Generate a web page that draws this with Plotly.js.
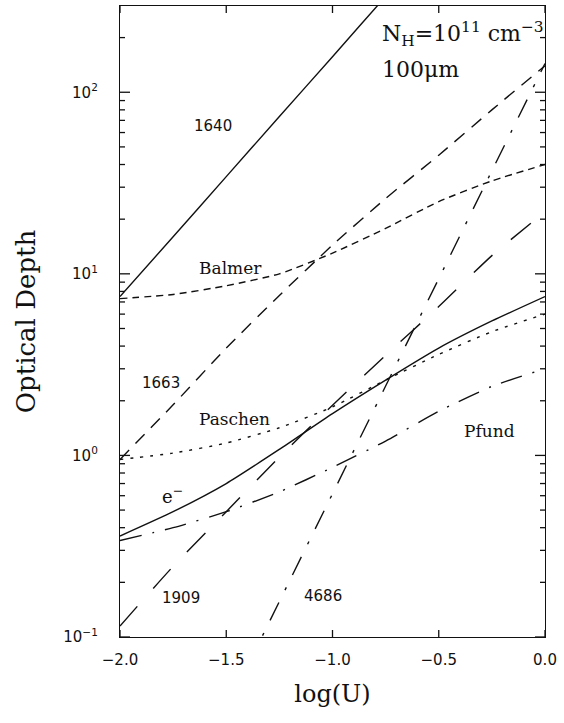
<!DOCTYPE html>
<html>
<head>
<meta charset="utf-8">
<script src="https://cdn.plot.ly/plotly-3.0.1.min.js"></script>
<style>html,body{margin:0;padding:0;background:#fff}#chart{width:564px;height:723px}</style>
</head>
<body>
<div id="chart"></div>
<script>
// Shared log(U) grid
var logU = [-2.0, -1.75, -1.5, -1.25, -1.0, -0.75, -0.5, -0.25, 0.0];

// 1640 (solid, upper)
var x1640 = [-2.0, -1.75, -1.5, -1.25, -1.0, -0.75, -0.5];
var tau1640 = [7.5, 16.0, 34.3, 73.5, 157, 337, 719];

// Balmer continuum
var tauBalmer = [7.3, 7.7, 8.6, 10.0, 13.0, 17.8, 25.0, 32.5, 40.0];

// 1663
var tau1663 = [0.95, 1.9, 3.9, 7.6, 14.4, 26.0, 45.0, 80.0, 140.0];

// Paschen continuum
var tauPaschen = [0.95, 1.03, 1.17, 1.42, 1.85, 2.6, 3.6, 4.8, 6.0];

// electron scattering
var tauE = [0.36, 0.49, 0.70, 1.08, 1.70, 2.6, 3.9, 5.5, 7.5];

// Pfund continuum
var tauPfund = [0.34, 0.40, 0.49, 0.63, 0.86, 1.2, 1.75, 2.4, 3.0];

// 1909
var tau1909 = [0.115, 0.245, 0.49, 0.98, 1.89, 3.56, 6.6, 12.6, 22.0];

// 4686
var x4686 = [-1.4, -1.25, -1.0, -0.75, -0.5, -0.25, 0.0];
var tau4686 = [0.069, 0.157, 0.615, 2.41, 9.4, 36.9, 144];

// Tick labels / positions
var yTickVals = [0.1, 1, 10, 100];
var yTickText = ['10<sup>−1</sup>', '10<sup>0</sup>', '10<sup>1</sup>', '10<sup>2</sup>'];
var yMinorVals = [0.2, 0.3, 0.4, 0.5, 0.6, 0.7, 0.8, 0.9,
                  2, 3, 4, 5, 6, 7, 8, 9,
                  20, 30, 40, 50, 60, 70, 80, 90, 200];
var xTickVals = [-2.0, -1.5, -1.0, -0.5, 0.0];
var xTickText = ['−2.0', '−1.5', '−1.0', '−0.5', '0.0'];

var xRange = [-2.0, 0.0];
var yRange = [-1, 2.475];

var W = 564, H = 723;
var M = {l: 120, r: 19, t: 6, b: 86};
var plotW = W - M.l - M.r, plotH = H - M.t - M.b;

function tr(x, y, dash) {
  return {x: x, y: y, type: 'scatter', mode: 'lines',
          line: {color: '#111', width: 1.4, dash: dash, shape: 'spline', smoothing: 0.6},
          showlegend: false, hoverinfo: 'skip'};
}

// Inward tick marks on all four sides, built from the tick arrays (axis decoration)
var tkX = [], tkY = [];
var xTickLen = 7 * (yRange[1] - yRange[0]) / plotH;     // in log10 units
xTickVals.forEach(function (v) {
  tkX.push(v, v, null, v, v, null);
  tkY.push(Math.pow(10, yRange[0]), Math.pow(10, yRange[0] + xTickLen), null,
           Math.pow(10, yRange[1]), Math.pow(10, yRange[1] - xTickLen), null);
});
function addY(vals, px) {
  var d = px * (xRange[1] - xRange[0]) / plotW;
  vals.forEach(function (v) {
    tkX.push(xRange[0], xRange[0] + d, null, xRange[1], xRange[1] - d, null);
    tkY.push(v, v, null, v, v, null);
  });
}
addY(yTickVals, 10);
addY(yMinorVals, 5);

var data = [
  tr(x1640, tau1640, 'solid'),
  tr(logU, tauBalmer, '7px,5px'),
  tr(logU, tau1663, '13px,9px'),
  tr(logU, tauPaschen, '3px,7px'),
  tr(logU, tauE, 'solid'),
  tr(logU, tauPfund, '22px,11px,2px,11px'),
  tr(logU, tau1909, '26px,24px'),
  tr(x4686, tau4686, '20px,14px,3px,14px'),
  {x: tkX, y: tkY, type: 'scatter', mode: 'lines', connectgaps: false, cliponaxis: false,
   line: {color: '#111', width: 1.3}, showlegend: false, hoverinfo: 'skip'}
];

var serif = 'DejaVu Serif, serif';
var sans = 'DejaVu Sans, sans-serif';

function lab(text, x, ly, fam, size) {
  return {text: text, x: x, y: ly, xref: 'x', yref: 'y', showarrow: false,
          font: {family: fam, size: size, color: '#111'}, xanchor: 'center', yanchor: 'middle'};
}

var layout = {
  width: W, height: H,
  margin: M,
  paper_bgcolor: '#fff', plot_bgcolor: '#fff',
  xaxis: {
    range: xRange, showgrid: false, zeroline: false,
    showline: true, linecolor: '#111', linewidth: 1.3, mirror: true,
    ticks: '', tickmode: 'array', tickvals: xTickVals, ticktext: xTickText,
    tickfont: {family: sans, size: 15, color: '#111'}, ticklabelstandoff: 9,
    title: {text: 'log(U)', font: {family: serif, size: 24, color: '#111'}, standoff: 17}
  },
  yaxis: {
    type: 'log', range: yRange, showgrid: false, zeroline: false,
    showline: true, linecolor: '#111', linewidth: 1.3, mirror: true,
    ticks: '', tickmode: 'array', tickvals: yTickVals, ticktext: yTickText,
    tickfont: {family: sans, size: 15, color: '#111'}, ticklabelstandoff: 18,
    title: {text: 'Optical Depth', font: {family: serif, size: 26, color: '#111'}, standoff: 20}
  },
  annotations: [
    lab('1640', -1.562, 1.813, sans, 15),
    lab('Balmer', -1.482, 1.033, serif, 17),
    lab('1663', -1.807, 0.401, sans, 15),
    lab('Paschen', -1.459, 0.198, serif, 17),
    lab('e<sup>−</sup>', -1.755, -0.22, serif, 18),
    lab('Pfund', -0.259, 0.132, serif, 17),
    lab('1909', -1.713, -0.786, sans, 15),
    lab('4686', -1.045, -0.775, sans, 15),
    {text: 'N<sub>H</sub>=10<sup>11</sup> cm<sup>−3</sup>', xref: 'paper', yref: 'paper',
     x: 0.612, y: 0.956, xanchor: 'left', yanchor: 'middle', showarrow: false,
     font: {family: serif, size: 22, color: '#111'}},
    {text: '100μm', xref: 'paper', yref: 'paper',
     x: 0.612, y: 0.899, xanchor: 'left', yanchor: 'middle', showarrow: false,
     font: {family: serif, size: 22, color: '#111'}}
  ]
};

Plotly.newPlot('chart', data, layout, {displayModeBar: false});
</script>
</body>
</html>
